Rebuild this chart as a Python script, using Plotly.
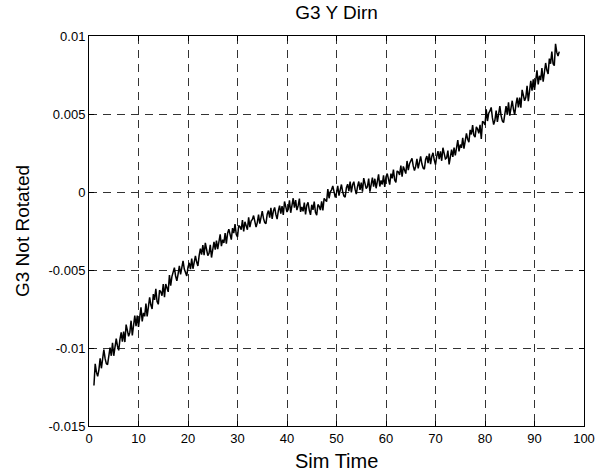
import numpy as np
import plotly.graph_objects as go

# Simulation time samples (every 0.25 from t = 1 to t = 95)
sim_time = np.arange(1.0, 95.001, 0.25)

# G3 displacement in the Y direction (not rotated)
g3_not_rotated = [
    -0.01240, -0.01102, -0.01155, -0.01182,
    -0.01140, -0.01067, -0.01130, -0.01067,
    -0.01010, -0.01067, -0.01100, -0.01107,
    -0.01030, -0.00997, -0.01050, -0.00967,
    -0.01050, -0.00977, -0.00940, -0.00987,
    -0.01015, -0.00945, -0.00900, -0.00960,
    -0.00895, -0.00962, -0.00850, -0.00887,
    -0.00925, -0.00900, -0.00825, -0.00920,
    -0.00835, -0.00792, -0.00860, -0.00792,
    -0.00865, -0.00815, -0.00740, -0.00830,
    -0.00775, -0.00797, -0.00715, -0.00797,
    -0.00710, -0.00675, -0.00725, -0.00750,
    -0.00655, -0.00692, -0.00620, -0.00702,
    -0.00720, -0.00630, -0.00640, -0.00665,
    -0.00590, -0.00675, -0.00590, -0.00615,
    -0.00640, -0.00532, -0.00600, -0.00542,
    -0.00520, -0.00485, -0.00540, -0.00570,
    -0.00526, -0.00473, -0.00528, -0.00483,
    -0.00442, -0.00494, -0.00526, -0.00538,
    -0.00482, -0.00454, -0.00495, -0.00427,
    -0.00492, -0.00436, -0.00409, -0.00449,
    -0.00474, -0.00408, -0.00363, -0.00401,
    -0.00340, -0.00405, -0.00326, -0.00367,
    -0.00408, -0.00393, -0.00339, -0.00420,
    -0.00358, -0.00320, -0.00370, -0.00312,
    -0.00366, -0.00329, -0.00272, -0.00347,
    -0.00306, -0.00326, -0.00263, -0.00331,
    -0.00264, -0.00239, -0.00282, -0.00305,
    -0.00232, -0.00263, -0.00206, -0.00273,
    -0.00288, -0.00215, -0.00222, -0.00241,
    -0.00180, -0.00253, -0.00191, -0.00216,
    -0.00242, -0.00163, -0.00225, -0.00186,
    -0.00176, -0.00151, -0.00198, -0.00225,
    -0.00196, -0.00145, -0.00203, -0.00160,
    -0.00122, -0.00169, -0.00196, -0.00203,
    -0.00142, -0.00119, -0.00165, -0.00102,
    -0.00172, -0.00121, -0.00099, -0.00144,
    -0.00174, -0.00121, -0.00088, -0.00139,
    -0.00090, -0.00147, -0.00061, -0.00094,
    -0.00128, -0.00111, -0.00054, -0.00133,
    -0.00068, -0.00040, -0.00100, -0.00052,
    -0.00116, -0.00089, -0.00042, -0.00127,
    -0.00096, -0.00124, -0.00068, -0.00144,
    -0.00084, -0.00066, -0.00117, -0.00147,
    -0.00082, -0.00115, -0.00061, -0.00130,
    -0.00148, -0.00080, -0.00092, -0.00116,
    -0.00060, -0.00118, -0.00041, -0.00051,
    -0.00062, 0.00019, -0.00040, 0.00001,
    0.00014, 0.00039, -0.00008, -0.00035,
    -0.00006, 0.00039, -0.00023, 0.00014,
    0.00048, 0.00001, -0.00026, -0.00033,
    0.00028, 0.00050, 0.00005, 0.00067,
    -0.00002, 0.00046, 0.00066, 0.00018,
    -0.00014, 0.00036, 0.00067, 0.00013,
    0.00060, 0.00002, 0.00089, 0.00055,
    0.00022, 0.00034, 0.00086, 0.00002,
    0.00062, 0.00092, 0.00035, 0.00085,
    0.00024, 0.00058, 0.00113, 0.00035,
    0.00074, 0.00048, 0.00107, 0.00033,
    0.00096, 0.00118, 0.00073, 0.00047,
    0.00118, 0.00087, 0.00144, 0.00077,
    0.00062, 0.00135, 0.00128, 0.00109,
    0.00170, 0.00099, 0.00164, 0.00141,
    0.00118, 0.00199, 0.00140, 0.00181,
    0.00194, 0.00216, 0.00167, 0.00137,
    0.00164, 0.00212, 0.00152, 0.00192,
    0.00228, 0.00181, 0.00154, 0.00147,
    0.00208, 0.00230, 0.00185, 0.00247,
    0.00178, 0.00228, 0.00251, 0.00205,
    0.00176, 0.00229, 0.00262, 0.00211,
    0.00260, 0.00200, 0.00284, 0.00248,
    0.00212, 0.00219, 0.00266, 0.00177,
    0.00232, 0.00272, 0.00225, 0.00285,
    0.00234, 0.00273, 0.00333, 0.00260,
    0.00304, 0.00283, 0.00347, 0.00278,
    0.00346, 0.00376, 0.00338, 0.00320,
    0.00398, 0.00369, 0.00429, 0.00364,
    0.00352, 0.00417, 0.00403, 0.00376,
    0.00430, 0.00340, 0.00454, 0.00446,
    0.00430, 0.00530, 0.00455, 0.00505,
    0.00520, 0.00542, 0.00475, 0.00432,
    0.00460, 0.00522, 0.00450, 0.00502,
    0.00550, 0.00490, 0.00455, 0.00445,
    0.00520, 0.00550, 0.00495, 0.00575,
    0.00490, 0.00555, 0.00585, 0.00530,
    0.00495, 0.00562, 0.00605, 0.00542,
    0.00605, 0.00540, 0.00655, 0.00620,
    0.00585, 0.00607, 0.00680, 0.00582,
    0.00665, 0.00712, 0.00650, 0.00722,
    0.00655, 0.00705, 0.00780, 0.00690,
    0.00745, 0.00717, 0.00795, 0.00707,
    0.00790, 0.00827, 0.00780, 0.00757,
    0.00855, 0.00822, 0.00900, 0.00822,
    0.00810, 0.00950, 0.00895, 0.00872,
    0.00900,
]

x_ticks = [0, 10, 20, 30, 40, 50, 60, 70, 80, 90, 100]
y_ticks = [-0.015, -0.01, -0.005, 0, 0.005, 0.01]
y_tick_text = ["-0.015", "-0.01", "-0.005", "0", "0.005", "0.01"]

FONT = "Liberation Sans, Arial, Helvetica, sans-serif"

# Plot-area geometry in pixels
W, H = 607, 475
L, R, T, B = 89, 23, 36, 49
PW, PH = W - L - R, H - T - B

fig = go.Figure(
    go.Scatter(
        x=sim_time,
        y=g3_not_rotated,
        mode="lines",
        line=dict(color="black", width=1.5),
        showlegend=False,
        hoverinfo="skip",
    )
)

axis_common = dict(
    showline=True,
    linecolor="black",
    linewidth=1,
    mirror="ticks",
    ticks="inside",
    ticklen=5,
    tickcolor="black",
    showgrid=True,
    gridcolor="#333333",
    gridwidth=1,
    griddash="8px,6px",
    zeroline=False,
    tickfont=dict(family=FONT, size=13, color="black"),
)

fig.update_xaxes(range=[0, 100], tickvals=x_ticks,
                 ticktext=[str(v) for v in x_ticks], **axis_common)
fig.update_yaxes(range=[-0.015, 0.01], tickvals=y_ticks,
                 ticktext=y_tick_text, **axis_common)

fig.update_layout(
    width=W,
    height=H,
    margin=dict(l=L, r=R, t=T, b=B),
    paper_bgcolor="white",
    plot_bgcolor="white",
    title=dict(
        text="G3 Y Dirn",
        font=dict(family=FONT, size=19, color="black"),
        x=(L + W - R) / 2 / W,
        xanchor="center",
        y=1 - 12 / H,
        yanchor="middle",
    ),
    annotations=[
        dict(
            text="Sim Time",
            xref="paper", yref="paper",
            x=0.5, y=-(461 - (T + PH)) / PH,
            xanchor="center", yanchor="middle",
            showarrow=False,
            font=dict(family=FONT, size=20, color="black"),
        ),
        dict(
            text="G3 Not Rotated",
            xref="paper", yref="paper",
            x=-(L - 22) / PW, y=0.5,
            xanchor="center", yanchor="middle",
            textangle=-90,
            showarrow=False,
            font=dict(family=FONT, size=19, color="black"),
        ),
    ],
)

fig.write_html("out.html")
